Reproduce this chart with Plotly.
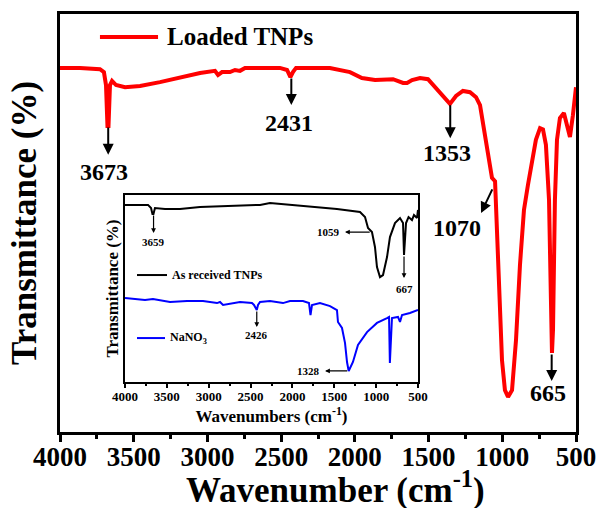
import plotly.graph_objects as go

# ---------------- data ----------------
# Main spectrum: Loaded TNPs
loaded_wn = [4000, 3864, 3729, 3702, 3688, 3678, 3671, 3661, 3647, 3620, 3559, 3457, 3322, 3186, 3050,
             2949, 2928, 2901, 2847, 2813, 2779, 2745, 2677, 2576, 2508, 2460, 2437, 2420, 2399, 2304,
             2169, 2033, 1952, 1863, 1796, 1741, 1673, 1646, 1612, 1558, 1504, 1450, 1395, 1355, 1314,
             1267, 1219, 1178, 1151, 1124, 1097, 1070, 1049, 1036, 1022, 1002, 982, 961, 934, 907,
             880, 853, 826, 799, 772, 744, 724, 704, 683, 670, 663, 656, 643, 629, 609,
             582, 561, 541, 521, 507, 500]
loaded_t = [87.1, 87.1, 86.8, 86.1, 83.0, 73.2, 73.2, 83.0, 84.0, 83.0, 82.5, 82.8, 83.7, 84.9, 85.9,
            86.4, 85.4, 86.1, 86.1, 86.6, 86.4, 87.1, 87.1, 87.1, 87.1, 86.6, 84.9, 86.1, 87.1, 87.1,
            87.1, 86.1, 84.7, 84.2, 84.4, 84.4, 83.5, 83.5, 84.2, 84.7, 84.4, 82.3, 79.9, 78.5, 80.4,
            81.6, 81.3, 80.1, 78.2, 72.2, 66.3, 60.8, 60.0, 48.3, 31.6, 17.2, 10.0, 8.4, 10.0, 22.0,
            40.0, 53.1, 59.1, 63.9, 69.9, 72.7, 72.4, 68.7, 55.5, 31.6, 18.9, 24.4, 55.5, 69.9, 75.1,
            76.3, 73.4, 70.6, 75.8, 80.6, 82.5]

# Inset: As received TNPs
tnp_wn = [4000, 3725, 3689, 3672, 3660, 3642, 3522, 3343, 3104, 2746, 2387, 2268, 1874, 1635, 1468,
          1193, 1133, 1097, 1050, 1014, 990, 954, 918, 870, 835, 775, 715, 679, 667, 643,
          613, 572, 548, 512, 500]
tnp_t = [94.7, 94.7, 93.0, 89.8, 89.8, 93.0, 92.5, 92.5, 93.6, 94.1, 94.7, 95.7, 94.1, 93.0, 92.5,
         90.9, 88.2, 82.4, 80.2, 72.2, 61.5, 56.1, 57.2, 66.8, 77.5, 85.0, 87.7, 85.0, 67.9, 85.0,
         88.2, 86.6, 89.3, 87.7, 92.0]

# Inset: NaNO3
nano3_wn = [4000, 3761, 3666, 3462, 3259, 3068, 2901, 2865, 2829, 2746, 2626, 2483, 2459, 2426, 2411,
            2387, 2268, 2113, 2029, 1874, 1802, 1784, 1766, 1671, 1551, 1468, 1456, 1408, 1372, 1348,
            1328, 1277, 1217, 1109, 990, 870, 846, 836, 811, 739, 715, 691, 596, 500]
nano3_t = [44.9, 43.9, 44.4, 42.8, 43.3, 43.3, 42.2, 42.8, 41.2, 41.7, 42.8, 42.2, 41.2, 38.5, 41.2,
           42.8, 43.3, 42.2, 43.3, 43.3, 42.2, 35.8, 41.2, 42.2, 40.6, 38.5, 32.1, 28.9, 20.9, 10.7,
           5.9, 10.7, 19.8, 26.7, 31.6, 34.2, 34.8, 10.2, 34.2, 34.8, 32.1, 35.8, 36.9, 38.5]

main_ticks = [4000, 3500, 3000, 2500, 2000, 1500, 1000, 500]

# peak labels: (label, arrow tail x, tail y, head x, head y, text x, text y, anchor)
main_peaks = [
    ("3673", 3673, 73.2, 3673, 66.3, 3700, 62.2, "center"),
    ("2431", 2431, 84.9, 2431, 78.2, 2445, 73.9, "center"),
    ("1353", 1353, 78.5, 1353, 70.3, 1375, 66.7, "center"),
    ("1070", 1063, 58.4, 1144, 52.4, 1307, 48.8, "center"),
    ("665", 665, 18.9, 665, 12.2, 690, 9.3, "center"),
]
inset_peaks = [
    ("3659", 3659, 89.8, 3659, 79.7, 3659, 74.9, "center"),
    ("1059", 1059, 80.2, 1372, 80.2, 1408, 80.2, "right"),
    ("667", 667, 67.9, 667, 55.6, 667, 49.7, "center"),
    ("2426", 2426, 38.5, 2426, 29.4, 2426, 25.1, "center"),
    ("1328", 1328, 5.9, 1610, 5.9, 1647, 5.9, "right"),
]

FONT = "'Times New Roman', 'Liberation Serif', 'DejaVu Serif', serif"

fig = go.Figure()
fig.add_trace(go.Scatter(x=loaded_wn, y=loaded_t, mode="lines", name="Loaded TNPs",
                         line=dict(color="#ff0000", width=4), xaxis="x", yaxis="y"))
fig.add_trace(go.Scatter(x=tnp_wn, y=tnp_t, mode="lines", name="As received TNPs",
                         line=dict(color="#000000", width=2), xaxis="x2", yaxis="y2"))
fig.add_trace(go.Scatter(x=nano3_wn, y=nano3_t, mode="lines", name="NaNO3",
                         line=dict(color="#0000ff", width=2), xaxis="x2", yaxis="y2"))

annotations = []
for lab, tx, ty, hx, hy, lx, ly, anc in main_peaks:
    annotations.append(dict(x=hx, y=hy, ax=tx, ay=ty, xref="x", yref="y", axref="x", ayref="y",
                            text="", showarrow=True, arrowhead=2, arrowsize=1.1, arrowwidth=2,
                            arrowcolor="black", standoff=0, startstandoff=0))
    annotations.append(dict(x=lx, y=ly, xref="x", yref="y", text=lab, showarrow=False,
                            xanchor=anc, yanchor="middle",
                            font=dict(family=FONT, size=24, color="black", weight="bold")))
for lab, tx, ty, hx, hy, lx, ly, anc in inset_peaks:
    annotations.append(dict(x=hx, y=hy, ax=tx, ay=ty, xref="x2", yref="y2", axref="x2", ayref="y2",
                            text="", showarrow=True, arrowhead=2, arrowsize=0.8, arrowwidth=1.2,
                            arrowcolor="black", standoff=0, startstandoff=0))
    annotations.append(dict(x=lx, y=ly, xref="x2", yref="y2", text=lab, showarrow=False,
                            xanchor=anc, yanchor="middle",
                            font=dict(family=FONT, size=11, color="black", weight="bold")))

# legends (drawn as line + text)
annotations.append(dict(x=3288, y=94.5, xref="x", yref="y", text="Loaded TNPs", showarrow=False,
                        xanchor="left", yanchor="middle",
                        font=dict(family=FONT, size=25, color="black", weight="bold")))
annotations.append(dict(x=3462, y=57.2, xref="x2", yref="y2", text="As received TNPs", showarrow=False,
                        xanchor="left", yanchor="middle",
                        font=dict(family=FONT, size=12, color="black", weight="bold")))
annotations.append(dict(x=3486, y=23.5, xref="x2", yref="y2", text="NaNO<sub>3</sub>", showarrow=False,
                        xanchor="left", yanchor="middle",
                        font=dict(family=FONT, size=12, color="black", weight="bold")))
# main x-axis title
annotations.append(dict(x=0.533, y=-0.132, xref="paper", yref="paper", text="Wavenumber (cm<sup>-1</sup>)",
                        showarrow=False, xanchor="center", yanchor="middle",
                        font=dict(family=FONT, size=35, color="black", weight="bold")))

shapes = [
    dict(type="line", xref="x", yref="y", x0=3729, x1=3335, y0=94.5, y1=94.5,
         line=dict(color="#ff0000", width=4)),
    dict(type="line", xref="x2", yref="y2", x0=3857, x1=3498, y0=57.2, y1=57.2,
         line=dict(color="#000000", width=2)),
    dict(type="line", xref="x2", yref="y2", x0=3857, x1=3522, y0=23.5, y1=23.5,
         line=dict(color="#0000ff", width=2)),
]

fig.update_layout(
    width=598, height=508,
    margin=dict(l=60, r=22, t=14, b=76, autoexpand=False),
    paper_bgcolor="white", plot_bgcolor="white",
    showlegend=False,
    font=dict(family=FONT),
    annotations=annotations, shapes=shapes,
    xaxis=dict(range=[4000, 500], tickvals=main_ticks, ticks="outside", ticklen=7, tickwidth=3,
               tickcolor="black", showline=True, linewidth=3, linecolor="black", mirror=True,
               showgrid=False, zeroline=False, automargin=False, ticklabelstandoff=-8,
               minor=dict(dtick=250, tick0=500, ticks="outside", ticklen=4, tickwidth=3, tickcolor="black"),
               tickfont=dict(family=FONT, size=27, color="black", weight="bold")),
    yaxis=dict(range=[0, 100], showticklabels=False, ticks="", showline=True, linewidth=3,
               linecolor="black", mirror=True, showgrid=False, zeroline=False, automargin=False,
               title=dict(text="Transmittance (%)", standoff=10,
                          font=dict(family=FONT, size=35, color="black", weight="bold"))),
    xaxis2=dict(domain=[0.12597, 0.69380], anchor="y2", range=[4000, 500], tickvals=main_ticks,
                ticks="outside", ticklen=4, tickwidth=1.5, tickcolor="black",
                showline=True, linewidth=1.5, linecolor="black", mirror=True,
                showgrid=False, zeroline=False, automargin=False, ticklabelstandoff=-2,
                minor=dict(dtick=250, tick0=500, ticks="outside", ticklen=2, tickwidth=1.5, tickcolor="black"),
                tickfont=dict(family=FONT, size=13, color="black", weight="bold"),
                title=dict(text="Wavenumbers (cm<sup>-1</sup>)", standoff=0,
                           font=dict(family=FONT, size=17, color="black", weight="bold"))),
    yaxis2=dict(domain=[0.11962, 0.56699], anchor="x2", range=[0, 100], showticklabels=False,
                ticks="", showline=True, linewidth=1.5, linecolor="black", mirror=True,
                showgrid=False, zeroline=False, automargin=False,
                title=dict(text="Transmittance (%)", standoff=0,
                           font=dict(family=FONT, size=17, color="black", weight="bold"))),
)

fig.write_html("out.html")
